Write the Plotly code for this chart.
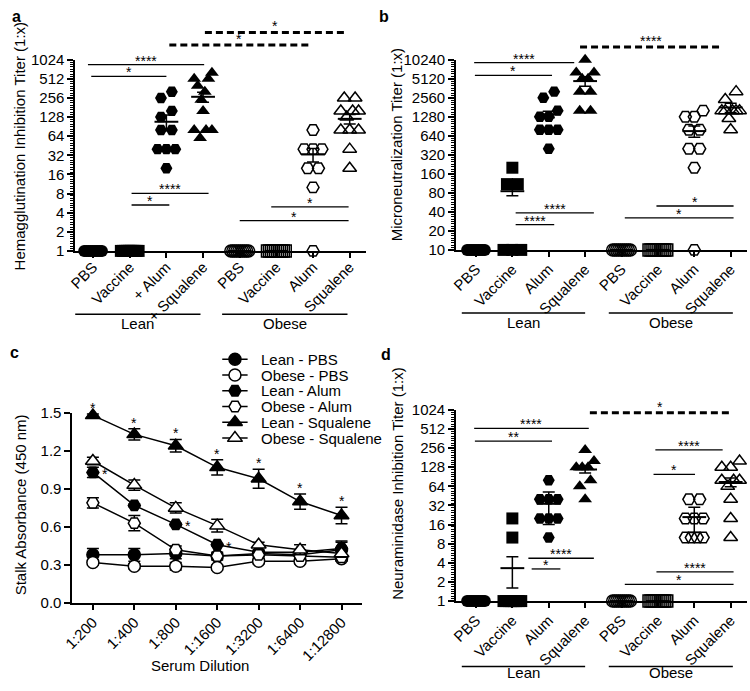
import math
import plotly.graph_objects as go

W, H = 750, 691
FONT = "Liberation Sans, Arial, Helvetica, sans-serif"

# ---------------- data ----------------
labels_a = ["PBS", "Vaccine", "+ Alum", "+ Squalene", "PBS", "Vaccine", "Alum", "Squalene"]
labels_bd = ["PBS", "Vaccine", "Alum", "Squalene", "PBS", "Vaccine", "Alum", "Squalene"]

# (a) Hemagglutination inhibition titers
hai_lean_pbs = [1, 1, 1, 1, 1, 1, 1, 1, 1, 1]
hai_lean_vac = [1, 1, 1, 1, 1, 1, 1, 1, 1, 1]
hai_lean_alum = [320, 256, 160, 128, 80, 80, 40, 40, 40, 20]
hai_lean_sq = [640, 512, 512, 400, 320, 240, 160, 80, 80, 80, 60]
hai_obese_pbs = [1, 1, 1, 1, 1, 1, 1, 1, 1, 1]
hai_obese_vac = [1, 1, 1, 1, 1, 1, 1, 1, 1, 1]
hai_obese_alum = [80, 40, 40, 40, 20, 20, 10, 1]
hai_obese_sq = [256, 256, 160, 160, 160, 128, 80, 80, 80, 40, 20]
hai_mean = [1, 1, 108, 267, 1, 1, 33, 120]
hai_sem = [0, 0, 30, 48, 0, 0, 8, 20]
hai_ticks = [1, 2, 4, 8, 16, 32, 64, 128, 256, 512, 1024]

# (b) Microneutralization titers
mn_lean_pbs = [10, 10, 10, 10, 10, 10, 10, 10, 10, 10]
mn_lean_vac = [200, 110, 110, 10, 10, 10]
mn_lean_alum = [3200, 2560, 1600, 1280, 1280, 800, 800, 800, 400]
mn_lean_sq = [10240, 6400, 6400, 5120, 5120, 3200, 3200, 1600, 1600]
mn_obese_pbs = [10, 10, 10, 10, 10, 10, 10, 10, 10, 10]
mn_obese_vac = [10, 10, 10, 10, 10, 10, 10, 10, 10, 10]
mn_obese_alum = [1600, 1280, 1280, 800, 800, 400, 400, 200, 10]
mn_obese_sq = [3200, 2400, 1600, 1600, 1600, 1600, 1600, 1200, 800]
mn_mean = [10, 85, 1400, 4700, 10, 10, 760, 1800]
mn_sem = [0, 13, 170, 800, 0, 0, 155, 300]
mn_ticks = [10, 20, 40, 80, 160, 320, 640, 1280, 2560, 5120, 10240]

# (c) Stalk ELISA absorbance
dilutions = ["1:200", "1:400", "1:800", "1:1600", "1:3200", "1:6400", "1:12800"]
c_lean_pbs = [0.38, 0.38, 0.39, 0.37, 0.39, 0.38, 0.42]
c_lean_pbs_err = [0.05, 0.05, 0.04, 0.03, 0.02, 0.02, 0.06]
c_obese_pbs = [0.32, 0.29, 0.29, 0.28, 0.33, 0.33, 0.35]
c_obese_pbs_err = [0.02, 0.02, 0.03, 0.02, 0.02, 0.02, 0.02]
c_lean_alum = [1.03, 0.77, 0.62, 0.46, 0.40, 0.40, 0.43]
c_lean_alum_err = [0.04, 0.01, 0.01, 0.01, 0.02, 0.02, 0.06]
c_obese_alum = [0.79, 0.63, 0.42, 0.37, 0.38, 0.37, 0.36]
c_obese_alum_err = [0.04, 0.06, 0.03, 0.02, 0.02, 0.02, 0.02]
c_lean_sq = [1.48, 1.33, 1.24, 1.07, 0.98, 0.80, 0.69]
c_lean_sq_err = [0.01, 0.045, 0.05, 0.06, 0.075, 0.06, 0.065]
c_obese_sq = [1.12, 0.93, 0.75, 0.61, 0.46, 0.42, 0.39]
c_obese_sq_err = [0.03, 0.04, 0.04, 0.05, 0.02, 0.04, 0.03]
c_sig_lean_sq = [0, 1, 2, 3, 4, 5, 6]
c_sig_lean_alum = [0, 2, 3]
c_ticks = [0.0, 0.3, 0.6, 0.9, 1.2, 1.5]
c_names = ["Lean - PBS", "Obese - PBS", "Lean - Alum", "Obese - Alum", "Lean - Squalene", "Obese - Squalene"]

# (d) Neuraminidase inhibition titers
ni_lean_pbs = [1, 1, 1, 1, 1, 1, 1, 1, 1, 1]
ni_lean_vac = [20, 10, 1, 1, 1, 1, 1, 1, 1, 1]
ni_lean_alum = [80, 40, 40, 40, 20, 20, 20, 10]
ni_lean_sq = [240, 160, 128, 128, 128, 80, 64, 40]
ni_obese_pbs = [1, 1, 1, 1, 1, 1, 1, 1, 1, 1]
ni_obese_vac = [1, 1, 1, 1, 1, 1, 1, 1, 1, 1]
ni_obese_alum = [40, 40, 20, 20, 20, 10, 10, 10, 10]
ni_obese_sq = [160, 128, 128, 80, 80, 80, 64, 40, 20, 10]
ni_mean = [1, 3.3, 34, 118, 1, 1, 21, 75]
ni_sem = [0, 1.7, 18, 14, 0, 0, 9, 12]
ni_ticks = [1, 2, 4, 8, 16, 32, 64, 128, 256, 512, 1024]

# significance brackets: (x0, x1, y in axis-domain units, label, dashed)
sig_a = [(-0.14, 3.03, 0.974, "****", False), (-0.05, 2.0, 0.913, "*", False),
         (3.05, 6.9, 1.143, "*", True), (2.08, 5.9, 1.077, "*", True),
         (1.05, 3.15, 0.301, "****", False), (1.05, 2.08, 0.240, "*", False),
         (4.86, 6.97, 0.230, "*", False), (4.0, 6.97, 0.158, "*", False)]
sig_b = [(-0.05, 2.7, 0.985, "****", False), (-0.03, 2.09, 0.918, "*", False),
         (2.86, 6.78, 1.067, "****", True),
         (1.09, 3.24, 0.195, "****", False), (1.09, 2.15, 0.133, "****", False),
         (4.96, 7.08, 0.231, "*", False), (4.09, 7.08, 0.169, "*", False)]
sig_d = [(-0.05, 3.1, 0.903, "****", False), (-0.03, 2.09, 0.837, "**", False),
         (3.13, 7.0, 0.985, "*", True), (4.93, 6.78, 0.791, "****", False),
         (4.88, 6.02, 0.663, "*", False),
         (1.44, 3.24, 0.224, "****", False), (1.53, 2.32, 0.168, "*", False),
         (4.96, 7.08, 0.153, "****", False), (4.09, 7.08, 0.087, "*", False)]


def pxx(x):
    return x / W


def pxy(y):
    return 1 - y / H


fig = go.Figure()

LEAN_SYM = ["circle", "square", "hexagon2", "triangle-up"]
SYM_SIZE = [12, 12, 12, 12]


def spread_x(vals, center, ppu, span_px=18.0, pair_px=11.0, gap=0.45):
    lv = [math.log2(v) for v in vals]
    order = sorted(range(len(vals)), key=lambda k: -lv[k])
    clusters, cur = [], [order[0]]
    for k in order[1:]:
        if lv[cur[-1]] - lv[k] < gap:
            cur.append(k)
        else:
            clusters.append(cur)
            cur = [k]
    clusters.append(cur)
    xs = [float(center)] * len(vals)
    for cl in clusters:
        n = len(cl)
        if n == 1:
            continue
        total = min(pair_px * (n - 1), span_px)
        step = total / (n - 1)
        slots = [-total / 2 + s * step for s in range(n)]
        zig = []
        lo, hi = 0, n - 1
        while lo <= hi:
            zig.append(hi)
            if lo != hi:
                zig.append(lo)
            hi -= 1
            lo += 1
        for j, k in enumerate(cl):
            xs[k] = center + slots[zig[j]] / ppu
    return xs


def dot_panel(xa, ya, groups, means, sems, ppu):
    for i, vals in enumerate(groups):
        lean = i < 4
        sym = LEAN_SYM[i % 4] + ("" if lean else "-open")
        fig.add_trace(go.Scatter(
            x=spread_x(vals, i, ppu), y=vals, mode="markers", xaxis=xa, yaxis=ya,
            marker=dict(symbol=sym, size=SYM_SIZE[i % 4], color="black",
                        line=dict(width=0 if lean else 1.5, color="black")),
            cliponaxis=False, hoverinfo="skip"))
    fig.add_trace(go.Scatter(
        x=list(range(len(means))), y=means, mode="markers", xaxis=xa, yaxis=ya,
        marker=dict(symbol="line-ew", size=17, color="black", line=dict(width=2, color="black")),
        error_y=dict(type="data", array=sems, visible=True, color="black", thickness=1.5, width=6),
        cliponaxis=False, hoverinfo="skip"))


dot_panel("x", "y", [hai_lean_pbs, hai_lean_vac, hai_lean_alum, hai_lean_sq,
                     hai_obese_pbs, hai_obese_vac, hai_obese_alum, hai_obese_sq],
          hai_mean, hai_sem, 37.15)
dot_panel("x2", "y2", [mn_lean_pbs, mn_lean_vac, mn_lean_alum, mn_lean_sq,
                       mn_obese_pbs, mn_obese_vac, mn_obese_alum, mn_obese_sq],
          mn_mean, mn_sem, 36.9)
dot_panel("x4", "y4", [ni_lean_pbs, ni_lean_vac, ni_lean_alum, ni_lean_sq,
                       ni_obese_pbs, ni_obese_vac, ni_obese_alum, ni_obese_sq],
          ni_mean, ni_sem, 36.9)

# panel c line series
c_series = [(c_lean_pbs, c_lean_pbs_err, "circle", "black"),
            (c_obese_pbs, c_obese_pbs_err, "circle", "white"),
            (c_lean_alum, c_lean_alum_err, "hexagon2", "black"),
            (c_obese_alum, c_obese_alum_err, "hexagon2", "white"),
            (c_lean_sq, c_lean_sq_err, "triangle-up", "black"),
            (c_obese_sq, c_obese_sq_err, "triangle-up", "white")]
for vals, errs, sym, fill in c_series:
    fig.add_trace(go.Scatter(
        x=list(range(len(dilutions))), y=vals, mode="lines+markers", xaxis="x3", yaxis="y3",
        line=dict(color="black", width=1.5),
        marker=dict(symbol=sym, size=12 if sym != "triangle-up" else 13, color=fill,
                    line=dict(color="black", width=1.5)),
        error_y=dict(type="data", array=errs, visible=True, color="black", thickness=1.5, width=6),
        cliponaxis=False, hoverinfo="skip"))

# custom legend for c (own small axis)
for r, (name, (vals, errs, sym, fill)) in enumerate(zip(c_names, c_series)):
    fig.add_trace(go.Scatter(x=[0, 1], y=[r, r], mode="lines", xaxis="x5", yaxis="y5",
                             line=dict(color="black", width=1.5), hoverinfo="skip"))
    fig.add_trace(go.Scatter(x=[0.5], y=[r], mode="markers", xaxis="x5", yaxis="y5",
                             marker=dict(symbol=sym, size=12 if sym != "triangle-up" else 13,
                                         color=fill, line=dict(color="black", width=1.5)),
                             cliponaxis=False, hoverinfo="skip"))

annotations = []
shapes = []


def add_sig(xref, yref, items):
    for x0, x1, yd, lab, dashed in items:
        shapes.append(dict(type="line", xref=xref, yref=yref + " domain", x0=x0, x1=x1, y0=yd, y1=yd,
                           line=dict(color="black", width=3 if dashed else 1.3,
                                     dash="7px,4px" if dashed else "solid")))
        annotations.append(dict(text=lab, xref=xref, yref=yref + " domain", x=(x0 + x1) / 2, y=yd,
                                showarrow=False, yanchor="bottom", yshift=-6 if not dashed else -4,
                                font=dict(size=14, color="black", family=FONT)))


add_sig("x", "y", sig_a)
add_sig("x2", "y2", sig_b)
add_sig("x4", "y4", sig_d)


def add_groups(xref, yref, lean_span, obese_span, yline, ytext, text_ref=None, text_anchor="middle"):
    for (x0, x1), lab in ((lean_span, "Lean"), (obese_span, "Obese")):
        shapes.append(dict(type="line", xref=xref, yref=yref + " domain", x0=x0, x1=x1, y0=yline, y1=yline,
                           line=dict(color="black", width=1.5)))
        annotations.append(dict(text=lab, xref=xref, yref=text_ref or (yref + " domain"), x=(x0 + x1) / 2,
                                y=ytext, showarrow=False, yanchor=text_anchor,
                                font=dict(size=15, color="black", family=FONT)))


add_groups("x", "y", (-0.49, 2.93), (3.52, 6.94), -0.332, -0.378)
add_groups("x2", "y2", (-0.39, 3.0), (3.65, 7.06), -0.332, -0.379)
add_groups("x4", "y4", (-0.39, 3.0), (3.65, 7.06), -0.342, 0.0, text_ref="paper", text_anchor="bottom")

# stars in panel c
for i in c_sig_lean_sq:
    annotations.append(dict(text="*", xref="x3", yref="y3", x=i, y=c_lean_sq[i] + c_lean_sq_err[i],
                            showarrow=False, yanchor="bottom", yshift=-4,
                            font=dict(size=14, color="black", family=FONT)))
for i in c_sig_lean_alum:
    annotations.append(dict(text="*", xref="x3", yref="y3", x=i, y=c_lean_alum[i],
                            showarrow=False, yanchor="middle", xanchor="left", xshift=7, yshift=-2,
                            font=dict(size=14, color="black", family=FONT)))

# legend texts
for r, name in enumerate(c_names):
    annotations.append(dict(text=name, xref="paper", yref="y5", x=pxx(252), y=r, xanchor="left",
                            yanchor="middle", showarrow=False,
                            font=dict(size=15, color="black", family=FONT)))

# panel letters
for lab, x, y in (("a", 7, 8), ("b", 379, 8), ("c", 5, 352), ("d", 381, 354)):
    annotations.append(dict(text="<b>%s</b>" % lab, xref="paper", yref="paper", x=pxx(x), y=pxy(y),
                            showarrow=False, xanchor="center", yanchor="middle",
                            font=dict(size=16, color="black", family=FONT)))

# y-axis titles
for txt, x, y in (("Hemagglutination Inhibition Titer (1:x)", 10, 141),
                  ("Microneutralization Titer (1:x)", 392, 139),
                  ("Stalk Absorbance (450 nm)", 11, 508),
                  ("Neuraminidase Inhibition Titer (1:x)", 392, 486)):
    annotations.append(dict(text=txt, xref="paper", yref="paper", x=pxx(x), y=pxy(y), textangle=-90,
                            showarrow=False, xanchor="center", yanchor="middle",
                            font=dict(size=15, color="black", family=FONT)))
annotations.append(dict(text="Serum Dilution", xref="paper", yref="paper", x=pxx(193), y=pxy(673),
                        showarrow=False, xanchor="center", yanchor="middle",
                        font=dict(size=15, color="black", family=FONT)))

tickfont = dict(size=15, color="black", family=FONT)
base = dict(showline=True, linecolor="black", linewidth=1.5, ticks="outside", tickcolor="black",
            tickwidth=1.5, ticklen=5, showgrid=False, zeroline=False, tickfont=tickfont, fixedrange=True)


def xcat(domain, rng, labels, standoff=-2):
    return dict(base, domain=domain, range=rng, tickmode="array", tickvals=list(range(len(labels))),
                ticktext=labels, tickangle=-45, ticklabelstandoff=standoff)


def ylog(domain, ticks, anchor):
    lo, hi = ticks[0], ticks[-1]
    minor_vals = [lo * 2 ** (k / 8) for k in range(0, 8 * (len(ticks) - 1) + 1)]
    return dict(base, domain=domain, type="log", range=[math.log10(lo), math.log10(hi)],
                tickmode="array", tickvals=ticks, ticktext=[str(t) for t in ticks], anchor=anchor,
                ticklen=6,
                minor=dict(ticks="outside", tickmode="array", tickvals=minor_vals, ticklen=3,
                           tickwidth=1, tickcolor="black", showgrid=False))


fig.update_layout(
    width=W, height=H, margin=dict(l=0, r=0, t=0, b=0),
    paper_bgcolor="white", plot_bgcolor="white", showlegend=False,
    font=dict(family=FONT, color="black"),
    xaxis=dict(xcat([pxx(66), pxx(361)], [-0.49, 7.45], labels_a, standoff=-5), anchor="y"),
    yaxis=ylog([pxy(248), pxy(52)], hai_ticks, "x"),
    xaxis2=dict(xcat([pxx(452), pxx(747)], [-0.55, 7.45], labels_bd), anchor="y2"),
    yaxis2=ylog([pxy(247), pxy(52)], mn_ticks, "x2"),
    xaxis3=dict(xcat([pxx(63), pxx(357)], [-0.5, 6.5], dilutions), anchor="y3"),
    yaxis3=dict(base, domain=[pxy(609), pxy(414)], range=[0, 1.5], tickmode="array", tickvals=c_ticks,
                ticktext=["%.1f" % t for t in c_ticks], anchor="x3", ticklen=6),
    xaxis4=dict(xcat([pxx(452), pxx(747)], [-0.55, 7.45], labels_bd), anchor="y4"),
    yaxis4=ylog([pxy(607), pxy(411)], ni_ticks, "x4"),
    xaxis5=dict(domain=[pxx(215), pxx(241)], range=[0, 1], visible=False, anchor="y5", fixedrange=True),
    yaxis5=dict(domain=[pxy(448), pxy(351)], range=[5.5, -0.5], visible=False, anchor="x5", fixedrange=True),
    annotations=annotations, shapes=shapes,
)

fig.write_html("out.html", config={"displayModeBar": False},
               post_script="document.body.style.margin='0';document.body.style.padding='0';"
                           "document.body.style.overflow='hidden';")
